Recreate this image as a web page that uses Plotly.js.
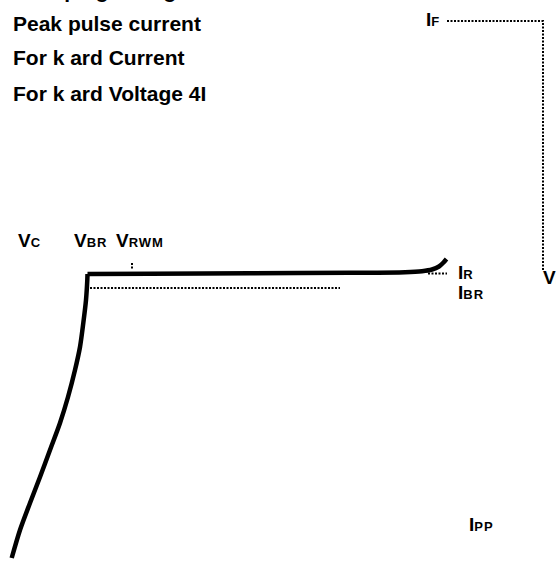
<!DOCTYPE html>
<html>
<head>
<meta charset="utf-8">
<script src="https://cdn.plot.ly/plotly-3.0.1.min.js"></script>
<style>html,body{margin:0;padding:0;background:#fff;}#chart{width:556px;height:563px;}</style>
</head>
<body>
<div id="chart"></div>
<script>
// Thick I-V characteristic curve (x = voltage axis units, y = current axis units, y downward)
// Breakdown branch (from peak pulse point up to the knee)
const branchX = [11.7, 20, 30, 40, 50, 60, 68, 75, 80, 83.3, 86, 87.3, 87.5];
const branchY = [558, 530, 503, 477, 450, 423, 397, 370, 347, 323, 300, 280, 274];
// Leakage plateau and forward hook
const plateauX = [87.5, 150, 250, 350, 405, 422, 432, 439, 443.5, 446.5];
const plateauY = [274, 273.8, 273.3, 272.8, 272.2, 271.2, 269.5, 266.5, 262.5, 259];

// Dotted reference lines
const ifLineX = [447, 543, 543];
const ifLineY = [21, 21, 270];
const ibrLineX = [90, 340];
const ibrLineY = [288, 288];
const irLineX = [428, 447];
const irLineY = [273.5, 273.5];
const vrwmLineX = [132, 132];
const vrwmLineY = [263, 270];

// Text lines at top-left
const noteLines = ["Clamping voltage", "Peak pulse current", "For k ard Current", "For k ard Voltage 4I"];
const noteBaseY = [-1, 32, 66, 102];

// Symbol labels: main letter, subscript, x (left), baseline y
const labelMain = ["V", "V", "V", "I", "I", "I", "V", "I"];
const labelSub = ["C", "BR", "RWM", "F", "R", "BR", "F", "PP"];
const labelX = [16, 72, 114, 424, 456, 456, 541, 467];
const labelBase = [248, 248, 248, 27, 280, 300, 285, 532];

const dotStyle = {color: '#000', width: 2, dash: '2px,1.5px'};
const traces = [
  {x: branchX, y: branchY, mode: 'lines', line: {color: '#000', width: 4.5, shape: 'spline', smoothing: 0.8}, hoverinfo: 'skip'},
  {x: plateauX, y: plateauY, mode: 'lines', line: {color: '#000', width: 4.5, shape: 'spline', smoothing: 0.8}, hoverinfo: 'skip'},
  {x: ifLineX, y: ifLineY, mode: 'lines', line: dotStyle, hoverinfo: 'skip'},
  {x: ibrLineX, y: ibrLineY, mode: 'lines', line: dotStyle, hoverinfo: 'skip'},
  {x: irLineX, y: irLineY, mode: 'lines', line: dotStyle, hoverinfo: 'skip'},
  {x: vrwmLineX, y: vrwmLineY, mode: 'lines', line: dotStyle, hoverinfo: 'skip'}
];

const FONT = 'Liberation Sans, Arial, sans-serif';
const annotations = [];
noteLines.forEach((t, i) => {
  annotations.push({
    x: 11, y: noteBaseY[i] + 5, xref: 'x', yref: 'y', xanchor: 'left', yanchor: 'bottom',
    text: '<b>' + t + '</b>', showarrow: false, font: {family: FONT, size: 21, color: '#000'}
  });
});
labelMain.forEach((m, i) => {
  annotations.push({
    x: labelX[i], y: labelBase[i] + 5, xref: 'x', yref: 'y', xanchor: 'left', yanchor: 'bottom',
    text: '<b>' + m + '<span style="font-size:13px;letter-spacing:1px">' + labelSub[i] + '</span></b>',
    showarrow: false, font: {family: FONT, size: 19, color: '#000'}
  });
});

const layout = {
  width: 556, height: 563,
  margin: {l: 0, r: 0, t: 0, b: 0},
  paper_bgcolor: '#fff', plot_bgcolor: '#fff',
  showlegend: false,
  xaxis: {range: [0, 556], visible: false, fixedrange: true},
  yaxis: {range: [563, 0], visible: false, fixedrange: true},
  annotations: annotations
};
Plotly.newPlot('chart', traces, layout, {staticPlot: true, displayModeBar: false});
</script>
</body>
</html>
